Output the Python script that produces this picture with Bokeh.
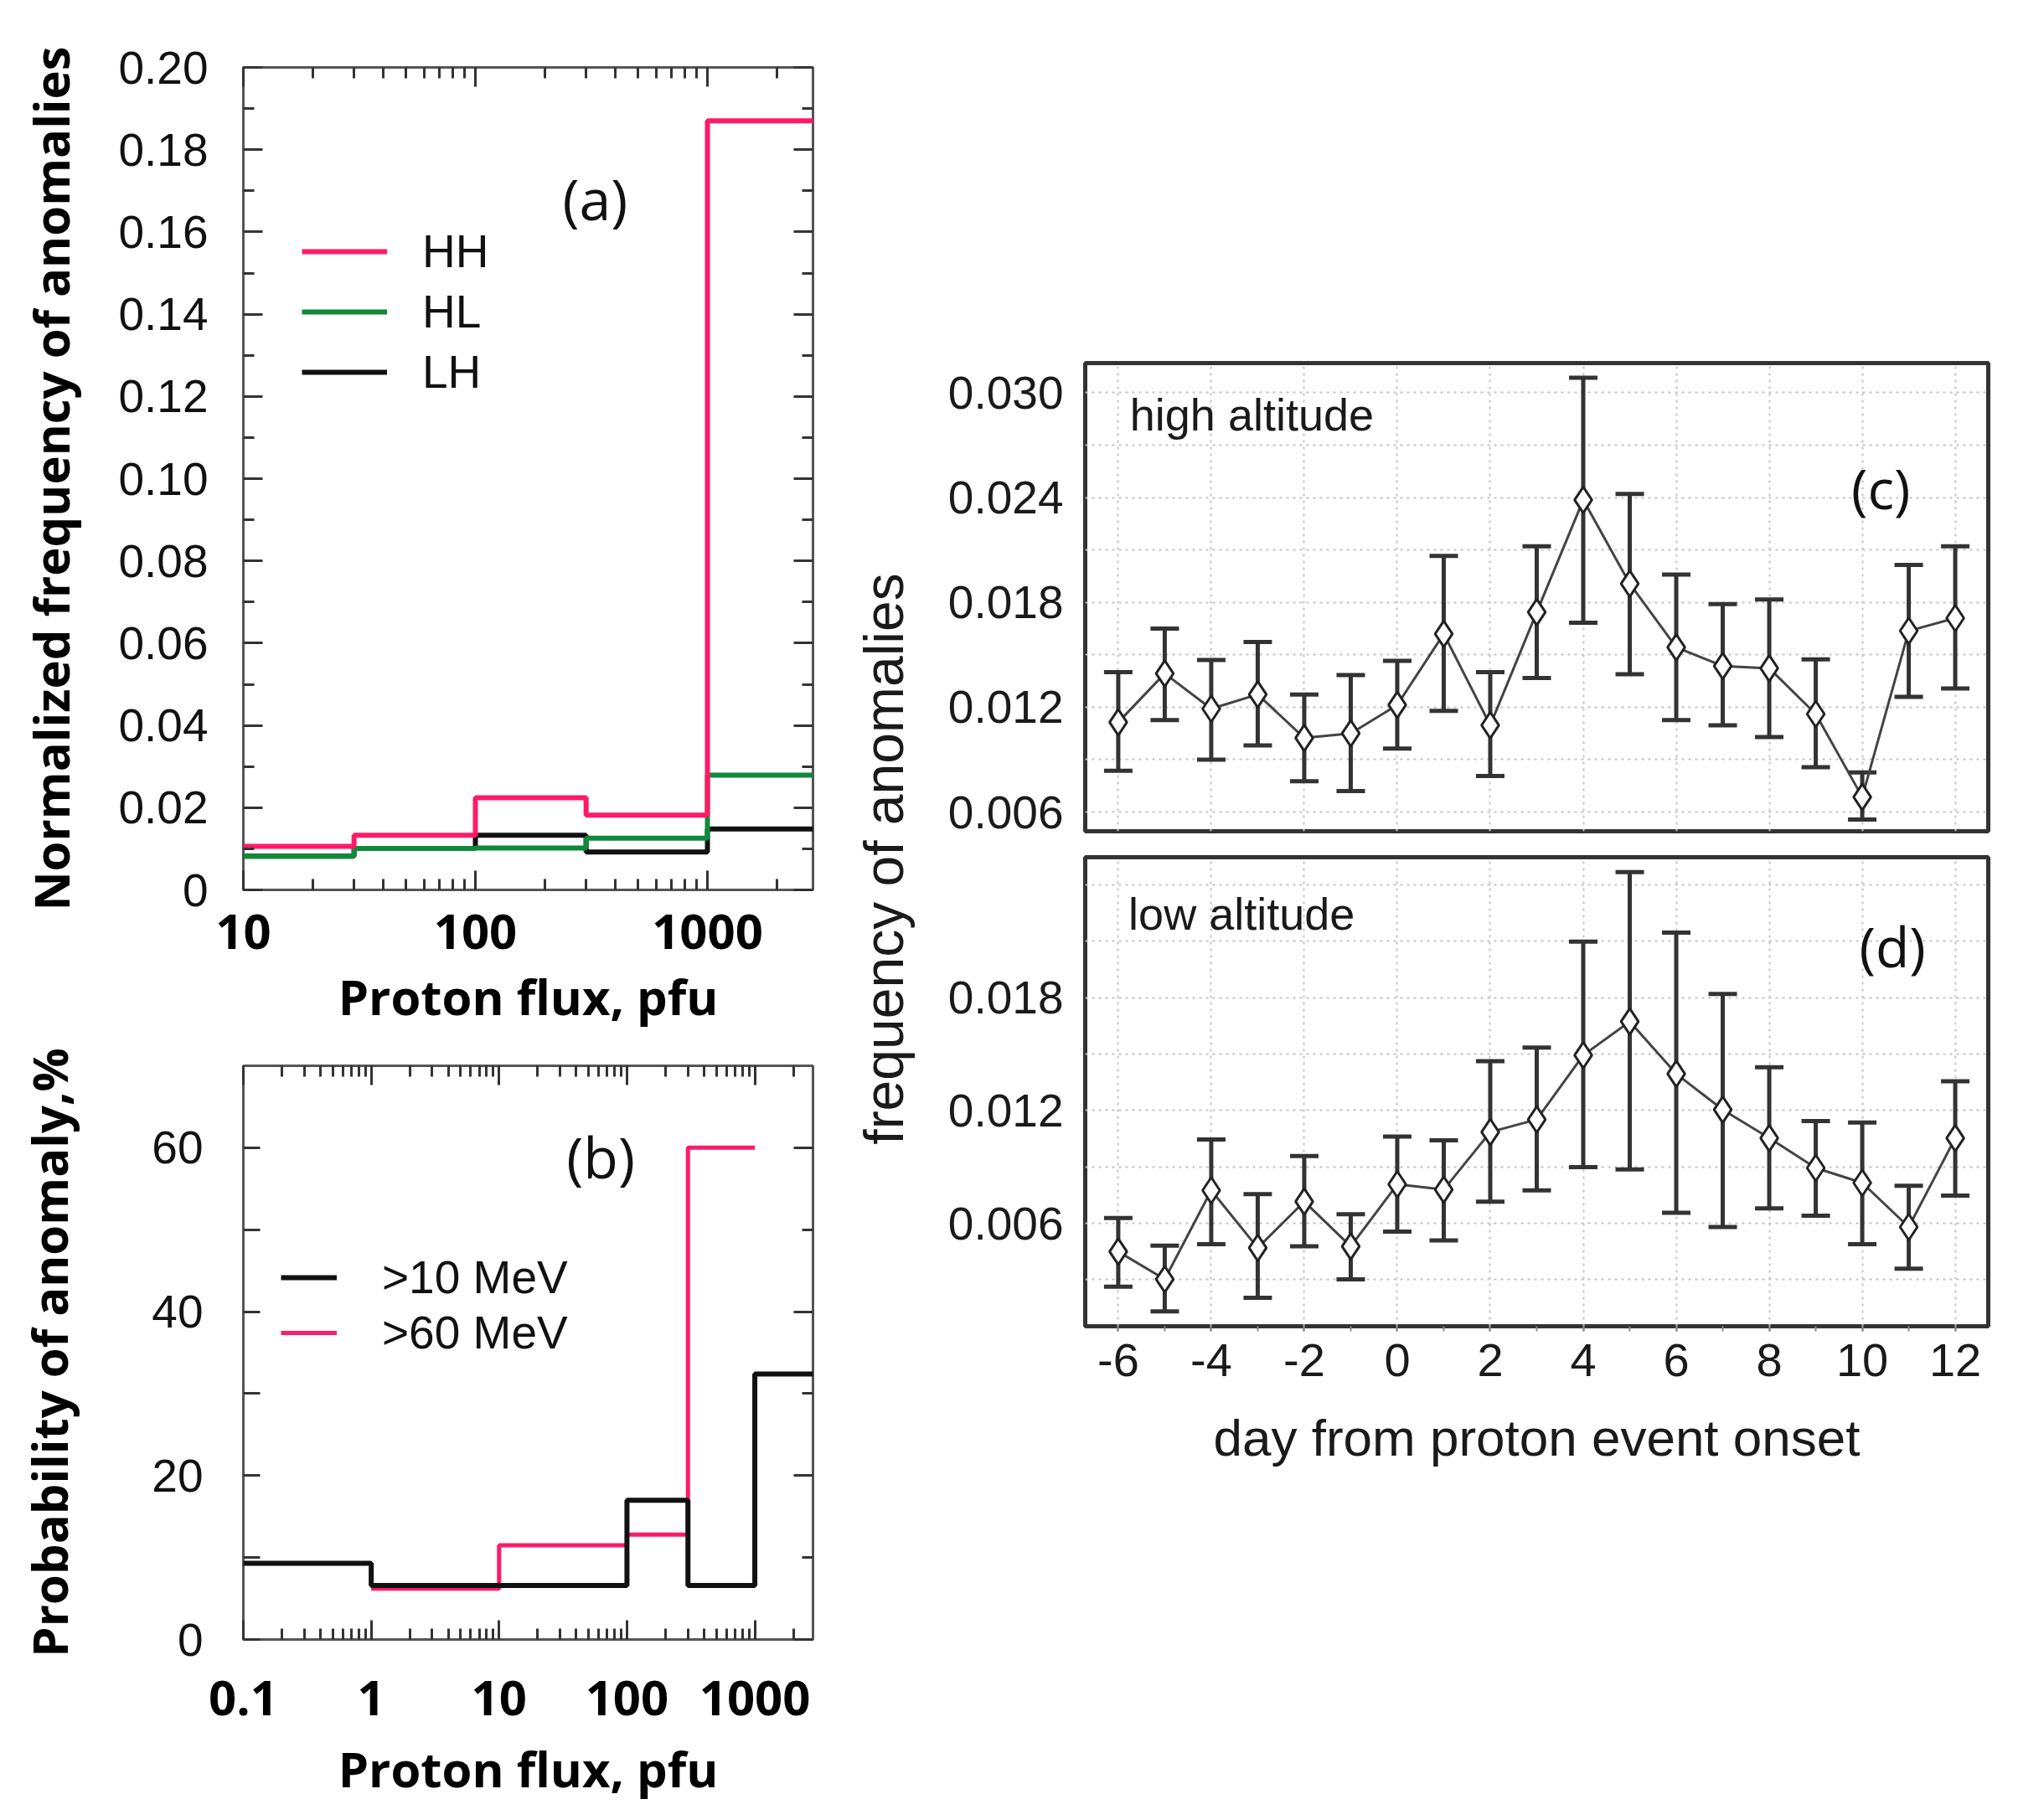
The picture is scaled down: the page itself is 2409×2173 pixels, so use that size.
from bokeh.plotting import figure
from bokeh.models import (Range1d, FixedTicker, CustomJSTickFormatter, LinearAxis, LogAxis,
                          Legend, LegendItem, Label, Whisker, TeeHead, ColumnDataSource, Spacer)
from bokeh.layouts import row, column
from bokeh.embed import file_html
from bokeh.resources import INLINE

# ---------------- data ----------------
# panel (a): normalized frequency of anomalies vs proton flux (bin edges in pfu)
a_edges = [10, 30, 100, 300, 1000, 3000]
a_hh = [0.0106, 0.0133, 0.0224, 0.0182, 0.1870]
a_hl = [0.0082, 0.0101, 0.0102, 0.0126, 0.0279]
a_lh = [0.0082, 0.0101, 0.0133, 0.0092, 0.0148]
a_yticks = [0, 0.02, 0.04, 0.06, 0.08, 0.10, 0.12, 0.14, 0.16, 0.18, 0.20]
a_yminor = [0.01, 0.03, 0.05, 0.07, 0.09, 0.11, 0.13, 0.15, 0.17, 0.19]
a_xticks = [10, 100, 1000]

# panel (b): probability of anomaly, %
b_edges_10 = [0.1, 1, 10, 100, 300, 1000, 3000]
b_p10 = [9.3, 6.6, 6.6, 17.0, 6.6, 32.4]
b_edges_60 = [1, 10, 100, 300, 1000]
b_p60 = [6.2, 11.5, 12.8, 60.0]
b_yticks = [0, 20, 40, 60]
b_yminor = [10, 30, 50]
b_xticks = [0.1, 1, 10, 100, 1000]

# panels (c), (d): frequency of anomalies vs day from proton event onset
days = [-6, -5, -4, -3, -2, -1, 0, 1, 2, 3, 4, 5, 6, 7, 8, 9, 10, 11, 12]
c_val = [0.01114, 0.01393, 0.01191, 0.01273, 0.01024, 0.01050, 0.01213, 0.01620, 0.01097, 0.01744,
         0.02387, 0.01907, 0.01543, 0.01436, 0.01423, 0.01161, 0.00686, 0.01637, 0.01710]
c_hi = [0.01401, 0.01650, 0.01470, 0.01573, 0.01273, 0.01384, 0.01466, 0.02066, 0.01401, 0.02121,
        0.03086, 0.02421, 0.01959, 0.01791, 0.01817, 0.01474, 0.00827, 0.02014, 0.02121]
c_lo = [0.00836, 0.01127, 0.00900, 0.00981, 0.00776, 0.00720, 0.00964, 0.01179, 0.00806, 0.01367,
        0.01684, 0.01389, 0.01127, 0.01097, 0.01029, 0.00857, 0.00557, 0.01260, 0.01307]
d_val = [0.00449, 0.00302, 0.00775, 0.00469, 0.00715, 0.00477, 0.00807, 0.00779, 0.01085, 0.01152,
         0.01494, 0.01673, 0.01395, 0.01204, 0.01053, 0.00894, 0.00815, 0.00580, 0.01053]
d_hi = [0.00628, 0.00481, 0.01045, 0.00755, 0.00958, 0.00648, 0.01061, 0.01041, 0.01462, 0.01534,
        0.02098, 0.02468, 0.02146, 0.01820, 0.01430, 0.01144, 0.01136, 0.00799, 0.01355]
d_lo = [0.00262, 0.00131, 0.00489, 0.00203, 0.00477, 0.00302, 0.00556, 0.00509, 0.00715, 0.00775,
        0.00898, 0.00886, 0.00656, 0.00580, 0.00679, 0.00640, 0.00489, 0.00358, 0.00747]
cd_xticks = [-6, -4, -2, 0, 2, 4, 6, 8, 10, 12]
c_yticks = [0.006, 0.012, 0.018, 0.024, 0.030]
d_yticks = [0.006, 0.012, 0.018]
c_ygrid = [0.006, 0.009, 0.012, 0.015, 0.018, 0.021, 0.024, 0.027, 0.030]
d_ygrid = [0.003, 0.006, 0.009, 0.012, 0.015, 0.018, 0.021, 0.024]

# ---------------- styles ----------------
SANS = "Liberation Sans"
BOLD = "Open Sans"
PINK = "#FF1A66"
GREEN = "#0E8A3A"
BLACK = "#111111"


def log_minor(lo, hi):
    return [m * 10.0 ** k for k in range(lo, hi) for m in range(2, 10)]


def base_fig(xr, yr, fw, fh, mbl, mbr, mbt, mbb, log=False):
    p = figure(x_axis_type="log" if log else "linear", x_range=xr, y_range=yr,
               frame_width=fw, frame_height=fh,
               min_border_left=mbl, min_border_right=mbr, min_border_top=mbt, min_border_bottom=mbb,
               output_backend="svg", toolbar_location=None)
    p.background_fill_color = "white"
    p.border_fill_color = "white"
    return p


def tick_style(ax, maj=23, mnr=13, color="#333333"):
    ax.major_tick_in = maj
    ax.major_tick_out = 0
    ax.minor_tick_in = mnr
    ax.minor_tick_out = 0
    ax.major_tick_line_color = color
    ax.minor_tick_line_color = color
    ax.major_tick_line_width = 3
    ax.minor_tick_line_width = 3
    ax.axis_line_color = None


def mirror(p, xticker, yticker):
    blank = CustomJSTickFormatter(code="return '';")
    top = LogAxis(ticker=xticker, formatter=blank)
    right = LinearAxis(ticker=yticker, formatter=blank)
    for ax in (top, right):
        tick_style(ax)
        ax.major_label_text_font_size = "1px"
        ax.major_label_standoff = 0
    p.add_layout(top, "above")
    p.add_layout(right, "right")


def step_xy(edges, vals):
    return list(edges), list(vals) + [vals[-1]]


# ---------------- panel (a) ----------------
fa = base_fig(Range1d(10, 2850), Range1d(0, 0.20), 680, 982, 290, 38, 80, 180, log=True)
fa.grid.visible = False
fa.outline_line_color = "#555555"
fa.outline_line_width = 3
ax_xt = FixedTicker(ticks=a_xticks, minor_ticks=log_minor(1, 4))
ax_yt = FixedTicker(ticks=a_yticks, minor_ticks=a_yminor)
xa = fa.below[0]
xa.ticker = ax_xt
xa.formatter = CustomJSTickFormatter(code="return String(tick);")
tick_style(xa)
xa.major_label_text_font = BOLD
xa.major_label_text_font_style = "bold"
xa.major_label_text_font_size = "58px"
xa.major_label_text_color = "black"
xa.major_label_standoff = 29
xa.axis_label = "Proton flux, pfu"
xa.axis_label_text_font = BOLD
xa.axis_label_text_font_style = "bold"
xa.axis_label_text_font_size = "58px"
xa.axis_label_text_color = "black"
xa.axis_label_standoff = 14
ya = fa.left[0]
ya.ticker = ax_yt
ya.formatter = CustomJSTickFormatter(code="return tick == 0 ? '0' : tick.toFixed(2);")
tick_style(ya)
ya.major_label_text_font = SANS
ya.major_label_text_font_size = "55px"
ya.major_label_text_color = BLACK
ya.major_label_standoff = 42
ya.axis_label = "Normalized frequency of anomalies"
ya.axis_label_text_font = BOLD
ya.axis_label_text_font_style = "bold"
ya.axis_label_text_font_size = "58px"
ya.axis_label_text_color = "black"
ya.axis_label_standoff = 38
mirror(fa, ax_xt, ax_yt)

x, y = step_xy(a_edges, a_lh)
r_lh = fa.step(x, y, mode="after", line_color=BLACK, line_width=6)
x, y = step_xy(a_edges, a_hl)
r_hl = fa.step(x, y, mode="after", line_color=GREEN, line_width=6)
x, y = step_xy(a_edges, a_hh)
r_hh = fa.step(x, y, mode="after", line_color=PINK, line_width=6)

leg_a = Legend(items=[LegendItem(label="HH", renderers=[r_hh]),
                      LegendItem(label="HL", renderers=[r_hl]),
                      LegendItem(label="LH", renderers=[r_lh])],
               location=(70, 582), glyph_width=102, glyph_height=72, label_height=72,
               label_standoff=42, spacing=0, padding=0, margin=0,
               border_line_color=None, background_fill_alpha=0,
               label_text_font=SANS, label_text_font_size="55px", label_text_color=BLACK)
fa.add_layout(leg_a)
fa.add_layout(Label(x=328, y=0.1682, text="(a)", text_align="center", text_baseline="middle",
                    text_font=BOLD, text_font_size="68px", text_color="#111111"))

# ---------------- panel (b) ----------------
fb = base_fig(Range1d(0.1, 2850), Range1d(0, 70), 680, 685, 290, 38, 30, 203, log=True)
fb.grid.visible = False
fb.outline_line_color = "#555555"
fb.outline_line_width = 3
bx_t = FixedTicker(ticks=b_xticks, minor_ticks=log_minor(-1, 4))
by_t = FixedTicker(ticks=b_yticks, minor_ticks=b_yminor)
xb = fb.below[0]
xb.ticker = bx_t
xb.formatter = CustomJSTickFormatter(code="return String(tick);")
tick_style(xb)
xb.major_label_text_font = BOLD
xb.major_label_text_font_style = "bold"
xb.major_label_text_font_size = "58px"
xb.major_label_text_color = "black"
xb.major_label_standoff = 49
xb.axis_label = "Proton flux, pfu"
xb.axis_label_text_font = BOLD
xb.axis_label_text_font_style = "bold"
xb.axis_label_text_font_size = "58px"
xb.axis_label_text_color = "black"
xb.axis_label_standoff = 21
yb = fb.left[0]
yb.ticker = by_t
tick_style(yb, maj=20, mnr=20)
yb.major_label_text_font = SANS
yb.major_label_text_font_size = "55px"
yb.major_label_text_color = BLACK
yb.major_label_standoff = 48
yb.axis_label = "Probability of anomaly,%"
yb.axis_label_text_font = BOLD
yb.axis_label_text_font_style = "bold"
yb.axis_label_text_font_size = "58px"
yb.axis_label_text_color = "black"
yb.axis_label_standoff = 80
mirror(fb, bx_t, by_t)

x, y = step_xy(b_edges_60, b_p60)
r_60 = fb.step(x, y, mode="after", line_color=PINK, line_width=5)
x, y = step_xy(b_edges_10, b_p10)
r_10 = fb.step(x, y, mode="after", line_color=BLACK, line_width=6)

leg_b = Legend(items=[LegendItem(label=">10 MeV", renderers=[r_10]),
                      LegendItem(label=">60 MeV", renderers=[r_60])],
               location=(45, 333), glyph_width=67, glyph_height=66, label_height=66,
               label_standoff=54, spacing=0, padding=0, margin=0,
               border_line_color=None, background_fill_alpha=0,
               label_text_font=SANS, label_text_font_size="55px", label_text_color=BLACK)
fb.add_layout(leg_b)
fb.add_layout(Label(x=62.4, y=59.0, text="(b)", text_align="center", text_baseline="middle",
                    text_font=BOLD, text_font_size="68px", text_color="#111111"))

# ---------------- panels (c), (d) ----------------
xr_cd = Range1d(-6.71, 12.71)


def cd_panel(yr, fh, mbt, mbb, vals, hi, lo, yticks, ygrid, title, tx, ty, tag, gx, gy):
    p = base_fig(xr_cd, yr, 1078, fh, 195, 20, mbt, mbb)
    p.outline_line_color = "#333333"
    p.outline_line_width = 5
    p.xgrid.ticker = FixedTicker(ticks=cd_xticks)
    p.ygrid.ticker = FixedTicker(ticks=ygrid)
    p.grid.grid_line_color = "#c4c4c4"
    p.grid.grid_line_dash = "3 5"
    p.grid.grid_line_width = 2
    yax = p.left[0]
    yax.ticker = FixedTicker(ticks=yticks)
    yax.formatter = CustomJSTickFormatter(code="return tick.toFixed(3);")
    yax.major_tick_in = 0
    yax.major_tick_out = 0
    yax.minor_tick_in = 0
    yax.minor_tick_out = 0
    yax.axis_line_color = None
    yax.major_label_text_font = SANS
    yax.major_label_text_font_size = "55px"
    yax.major_label_text_color = "#1a1a1a"
    yax.major_label_standoff = 26
    src = ColumnDataSource(data=dict(day=days, val=vals, hi=hi, lo=lo))
    w = Whisker(source=src, base="day", upper="hi", lower="lo", dimension="height",
                line_color="#333333", line_width=5, level="underlay",
                upper_head=TeeHead(size=34, line_color="#333333", line_width=5),
                lower_head=TeeHead(size=34, line_color="#333333", line_width=5))
    p.add_layout(w)
    p.line("day", "val", source=src, line_color="#444444", line_width=3)
    p.scatter("day", "val", source=src, marker="diamond", size=31, fill_color="white",
              line_color="#222222", line_width=3)
    p.add_layout(Label(x=tx, y=ty, text=title, text_align="left", text_baseline="alphabetic",
                       text_font=SANS, text_font_size="54px", text_color="#1a1a1a"))
    p.add_layout(Label(x=gx, y=gy, text=tag, text_align="center", text_baseline="middle",
                       text_font=BOLD, text_font_size="66px", text_color="#111111"))
    return p


fc = cd_panel(Range1d(0.0049, 0.0317), 559, 33, 15, c_val, c_hi, c_lo, c_yticks, c_ygrid,
              "high altitude", -5.75, 0.02875, "(c)", 10.4, 0.0246)
fc.xaxis.visible = False

fd = cd_panel(Range1d(0.00052, 0.02547), 560, 16, 200, d_val, d_hi, d_lo, d_yticks, d_ygrid,
              "low altitude", -5.78, 0.02245, "(d)", 10.65, 0.02078)
xd = fd.below[0]
xd.ticker = FixedTicker(ticks=cd_xticks, minor_ticks=days)
xd.formatter = CustomJSTickFormatter(code="return String(tick);")
xd.major_tick_in = 0
xd.minor_tick_in = 0
xd.major_tick_out = 6
xd.minor_tick_out = 6
xd.major_tick_line_color = "#888888"
xd.minor_tick_line_color = "#888888"
xd.major_tick_line_width = 2
xd.minor_tick_line_width = 2
xd.axis_line_color = None
xd.major_label_text_font = SANS
xd.major_label_text_font_size = "56px"
xd.major_label_text_color = "#1a1a1a"
xd.major_label_standoff = 15
xd.axis_label = "day from proton event onset"
xd.axis_label_text_font = SANS
xd.axis_label_text_font_style = "normal"
xd.axis_label_text_font_size = "62px"
xd.axis_label_text_color = "#1a1a1a"
xd.axis_label_standoff = 36

# shared y-axis title for (c) and (d)
SPACER_H = 400
RIGHT_H = SPACER_H + (33 + 559 + 15) + (16 + 560 + 200)
lf = figure(frame_width=92, frame_height=RIGHT_H, x_range=Range1d(0, 1), y_range=Range1d(0, 1),
            min_border=0, output_backend="svg", toolbar_location=None)
lf.outline_line_color = None
lf.axis.visible = False
lf.grid.visible = False
lf.add_layout(Label(x=0.5, y=1 - 1025 / RIGHT_H, text="frequency of anomalies", angle=90,
                    angle_units="deg", text_align="center", text_baseline="middle",
                    text_font=SANS, text_font_size="66px", text_color="#1a1a1a"))

layout = row(column(fa, fb), row(lf, column(Spacer(width=1293, height=SPACER_H), fc, fd)))

open("out.html", "w").write(file_html(layout, INLINE))
